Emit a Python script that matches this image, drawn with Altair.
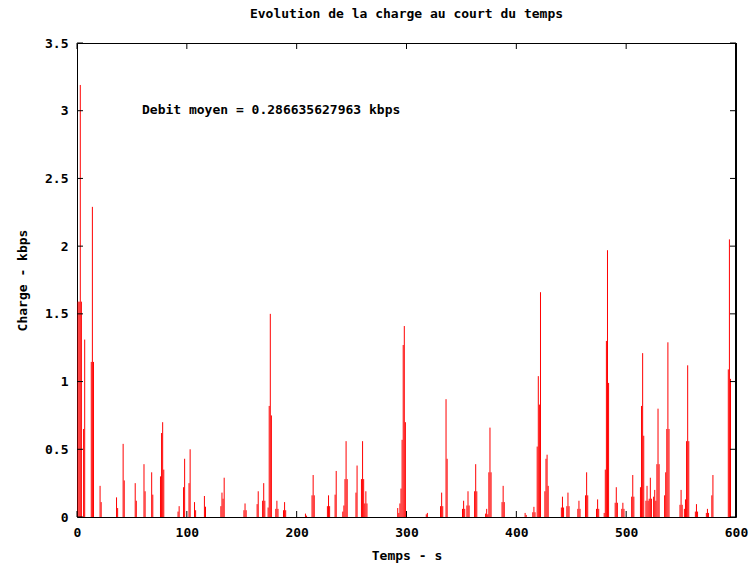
import altair as alt
import pandas as pd

# time (s) of each sample and the charge (kbps)
t = [1, 2, 3, 4, 6, 7, 13, 14, 15, 21, 22, 36, 37, 42, 43, 53, 54, 61, 62, 68, 69,
     76, 77, 78, 79, 92, 93, 97, 98, 102, 103, 107, 108, 116, 117, 131, 132, 133, 134,
     152, 153, 154, 164, 165, 169, 170, 171, 174, 175, 176, 177, 181, 182, 183,
     188, 189, 190, 208, 209, 214, 215, 216, 228, 229, 230, 235, 236,
     242, 243, 244, 245, 246, 254, 255, 259, 260, 261, 262, 263, 264,
     292, 293, 294, 295, 296, 297, 298, 299, 318, 319, 331, 332, 333, 336, 337,
     351, 352, 353, 355, 356, 357, 362, 363, 364, 372, 373, 374, 375, 376, 377,
     387, 388, 389, 408, 409, 415, 416, 417, 419, 420, 421, 422, 426, 427, 428, 429,
     441, 442, 443, 446, 447, 448, 456, 457, 458, 463, 464, 465, 473, 474, 475,
     480, 481, 482, 483, 484, 490, 491, 492, 496, 497, 498, 505, 506, 507,
     513, 514, 515, 516, 518, 519, 520, 521, 522, 523, 525, 526, 527, 528, 529, 530,
     535, 536, 537, 538, 539, 549, 550, 551, 553, 554, 555, 556, 557,
     563, 564, 565, 573, 574, 575, 578, 579, 593, 594, 595]
v = [1.59, 1.59, 3.19, 1.59, 0.65, 1.31, 1.145, 2.29, 1.145, 0.23, 0.11, 0.145, 0.066, 0.54, 0.27, 0.25, 0.12, 0.39, 0.19, 0.33, 0.165,
     0.30, 0.62, 0.70, 0.35, 0.04, 0.08, 0.22, 0.43, 0.25, 0.50, 0.11, 0.05, 0.155, 0.076, 0.08, 0.18, 0.135, 0.29,
     0.05, 0.10, 0.05, 0.095, 0.19, 0.12, 0.25, 0.12, 0.07, 0.82, 1.50, 0.75, 0.06, 0.12, 0.06,
     0.05, 0.11, 0.05, 0.025, 0.01, 0.16, 0.31, 0.16, 0.08, 0.16, 0.08, 0.165, 0.34,
     0.04, 0.085, 0.28, 0.56, 0.28, 0.18, 0.38, 0.28, 0.56, 0.28, 0.10, 0.19, 0.10,
     0.066, 0.03, 0.10, 0.21, 0.57, 1.27, 1.41, 0.70, 0.02, 0.03, 0.08, 0.18, 0.08, 0.87, 0.43,
     0.06, 0.12, 0.06, 0.085, 0.19, 0.085, 0.19, 0.39, 0.19, 0.025, 0.06, 0.02, 0.33, 0.66, 0.33,
     0.11, 0.23, 0.11, 0.03, 0.015, 0.035, 0.075, 0.035, 0.52, 1.04, 0.83, 1.66, 0.19, 0.43, 0.46, 0.23,
     0.07, 0.15, 0.07, 0.08, 0.18, 0.08, 0.06, 0.12, 0.06, 0.16, 0.33, 0.16, 0.06, 0.13, 0.06,
     0.03, 0.35, 1.30, 1.97, 0.99, 0.105, 0.22, 0.105, 0.06, 0.105, 0.06, 0.15, 0.31, 0.15,
     0.22, 0.82, 1.21, 0.60, 0.12, 0.23, 0.12, 0.135, 0.29, 0.135, 0.15, 0.20, 0.12, 0.39, 0.80, 0.39,
     0.16, 0.33, 0.65, 1.29, 0.65, 0.09, 0.20, 0.09, 0.06, 0.13, 0.56, 1.12, 0.56,
     0.04, 0.095, 0.04, 0.03, 0.06, 0.03, 0.16, 0.31, 1.09, 2.05, 1.02]

x_ticks = [0, 100, 200, 300, 400, 500, 600]
y_ticks = [0, 0.5, 1, 1.5, 2, 2.5, 3, 3.5]

title_text = "Evolution de la charge au court du temps"
x_title = "Temps - s"
y_title = "Charge - kbps"
note = "Debit moyen = 0.286635627963 kbps"

FONT = "DejaVu Sans Mono"
W, H = 659, 474
TL = 6
LW = 1

common = dict(domain=False, ticks=False, grid=False, labelFlush=False,
              labelFont=FONT, labelFontSize=13, labelFontWeight="bold", labelColor="black",
              titleFont=FONT, titleFontSize=13, titleFontWeight="bold", titleColor="black")

df = pd.DataFrame({"t": t, "v": v})
xs = alt.Scale(domain=[0, 600], nice=False, zero=False)
ys = alt.Scale(domain=[0, 3.5], nice=False)

impulses = alt.Chart(df).mark_rule(color="#ff0000", strokeWidth=1).encode(
    x=alt.X("t:Q", scale=xs,
            axis=alt.Axis(values=x_ticks, title=x_title, format="d",
                          labelPadding=9, titlePadding=10, **common)),
    y=alt.Y("v:Q", scale=ys,
            axis=alt.Axis(values=y_ticks, title=y_title, format="~g",
                          labelPadding=9, titlePadding=15, **common)),
    y2=alt.datum(0),
)

xt = pd.DataFrame({"t": x_ticks})
yt = pd.DataFrame({"v": y_ticks})

top_ticks = alt.Chart(xt).mark_rule(color="black", strokeWidth=LW).encode(
    x=alt.X("t:Q", scale=xs), y=alt.value(0), y2=alt.value(TL))
bot_ticks = alt.Chart(xt).mark_rule(color="black", strokeWidth=LW).encode(
    x=alt.X("t:Q", scale=xs), y=alt.value(H), y2=alt.value(H - TL))
left_ticks = alt.Chart(yt).mark_rule(color="black", strokeWidth=LW).encode(
    y=alt.Y("v:Q", scale=ys), x=alt.value(0), x2=alt.value(TL))
right_ticks = alt.Chart(yt).mark_rule(color="black", strokeWidth=LW).encode(
    y=alt.Y("v:Q", scale=ys), x=alt.value(W), x2=alt.value(W - TL))
right_edge = alt.Chart(yt).mark_rule(color="black", strokeWidth=LW).encode(
    x=alt.value(W), y=alt.value(0), y2=alt.value(H))

annot = alt.Chart(pd.DataFrame({"txt": [note]})).mark_text(
    align="left", baseline="middle", font=FONT, fontSize=13, fontWeight="bold",
    color="black").encode(x=alt.value(65), y=alt.value(67), text="txt:N")

chart = alt.layer(impulses, top_ticks, bot_ticks, left_ticks, right_ticks,
                  right_edge, annot).properties(
    width=W, height=H,
    background="white",
    title=alt.TitleParams(title_text, font=FONT, fontSize=13, fontWeight="bold",
                          color="black", anchor="middle", offset=16),
    padding={"left": 77, "top": 43, "right": 18, "bottom": 50},
    autosize=alt.AutoSizeParams(type="none"),
).configure_view(
    stroke="black", strokeWidth=LW
)

chart.save("out.html", embed_options={"renderer": "svg", "actions": False})
